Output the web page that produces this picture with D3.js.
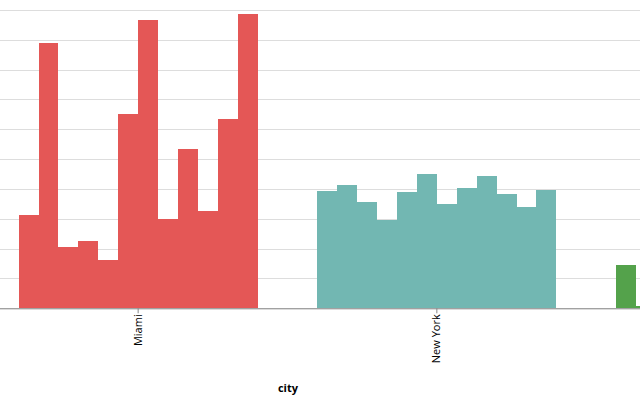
<html>
<head>
<script src="https://cdn.jsdelivr.net/npm/d3@7"></script>
<style>
  body { margin: 0; background: #fff; }
  svg { display: block; font-family: "Open Sans", sans-serif; }
</style>
</head>
<body>
<svg></svg>
<script>
// precipitation by city and month (months sorted alphabetically, as in the source)
var cities = ["Miami", "New York", "San Francisco"];
var months = ["Apr", "Aug", "Dec", "Feb", "Jan", "Jul", "Jun", "Mar", "May", "Nov", "Oct", "Sep"];
var miami = [3.14, 8.88, 2.04, 2.25, 1.62, 6.50, 9.67, 3.00, 5.34, 3.27, 6.33, 9.86];
var newYork = [3.94, 4.13, 3.58, 2.96, 3.91, 4.51, 3.50, 4.04, 4.43, 3.82, 3.39, 3.97];
var sanFrancisco = [1.46, 0.07];   // only the first two bars are in view
var yTicks = [0, 1, 2, 3, 4, 5, 6, 7, 8, 9, 10];
var colors = ["#e45756", "#72b7b2", "#54a24b"];

var width = 640, height = 400;
var base = 308.3;

var data = [];
[miami, newYork, sanFrancisco].forEach(function(vals, ci) {
  vals.forEach(function(v, mi) {
    data.push({city: cities[ci], month: months[mi], value: v});
  });
});

var svg = d3.select("svg").attr("width", width).attr("height", height);

var y = d3.scaleLinear().domain([0, 10]).range([base, 10]);
var x = d3.scaleBand().domain(cities).range([-11.2, 884.9])
          .paddingInner(0.2).paddingOuter(0.1);
var xOff = d3.scaleBand().domain(months).range([0, x.bandwidth()]);
var color = d3.scaleOrdinal().domain(cities).range(colors);

// grid
svg.append("g")
   .selectAll("line")
   .data(yTicks)
   .enter()
   .append("line")
   .attr("x1", 0)
   .attr("x2", width)
   .attr("y1", function(d) { return Math.round(y(d)) + 0.5; })
   .attr("y2", function(d) { return Math.round(y(d)) + 0.5; })
   .attr("stroke", "#ddd")
   .attr("stroke-width", 1);

// bars
svg.append("g")
   .attr("shape-rendering", "crispEdges")
   .selectAll("rect")
   .data(data)
   .enter()
   .append("rect")
   .attr("x", function(d) { return x(d.city) + xOff(d.month); })
   .attr("y", function(d) { return y(d.value); })
   .attr("width", xOff.bandwidth())
   .attr("height", function(d) { return base - y(d.value); })
   .attr("fill", function(d) { return color(d.city); });

// x axis (labels only for the cities whose tick is in view)
var shown = cities.filter(function(c) { return x(c) + x.bandwidth() / 2 < width; });
var ax = svg.append("g")
   .attr("transform", "translate(0," + base + ")")
   .call(d3.axisBottom(x).tickValues(shown).tickSize(5).tickSizeOuter(0));
ax.select(".domain").attr("stroke", "#888");
ax.selectAll(".tick line").attr("stroke", "#888");
ax.selectAll(".tick text")
  .attr("font-family", "'Open Sans', sans-serif")
  .attr("font-size", 11)
  .attr("fill", "#000")
  .attr("transform", "rotate(-90)")
  .attr("text-anchor", "end")
  .attr("x", -6)
  .attr("y", 0)
  .attr("dy", "0.32em");

// axis title
svg.append("text")
   .attr("x", 288)
   .attr("y", 392)
   .attr("text-anchor", "middle")
   .attr("font-size", 11)
   .attr("font-weight", "bold")
   .attr("fill", "#000")
   .text("city");
</script>
</body>
</html>
